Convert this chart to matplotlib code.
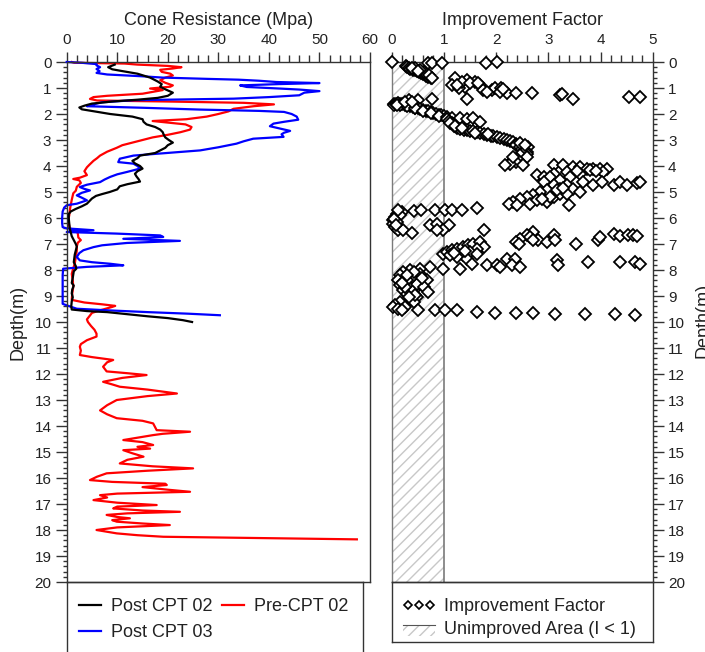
import matplotlib
matplotlib.use("Agg")
import matplotlib.pyplot as plt
from matplotlib.lines import Line2D
from matplotlib.patches import Patch, Rectangle
from matplotlib.ticker import MultipleLocator
import numpy as np

plt.rcParams['font.family'] = ['Liberation Sans', 'DejaVu Sans']
plt.rcParams['hatch.linewidth'] = 1.0

# ---------------- data ----------------
post02_depth = [0.10, 0.20, 0.28, 0.35, 0.45, 0.60, 0.75, 0.85, 0.95, 1.05, 1.18, 1.30, 1.38, 1.45, 1.52, 1.60,
                1.68, 1.75, 1.82, 1.90, 2.00, 2.10, 2.20, 2.30, 2.40, 2.50, 2.60, 2.70, 2.80, 2.90, 3.00, 3.10,
                3.20, 3.30, 3.40, 3.50, 3.60, 3.70, 3.80, 3.90, 4.00, 4.10, 4.20, 4.30, 4.40, 4.50, 4.60, 4.70,
                4.78, 4.90, 5.00, 5.08, 5.15, 5.25, 5.35, 5.45, 5.55, 5.65, 5.75, 5.85, 6.00, 6.20, 6.40, 6.55,
                6.70, 6.85, 7.00, 7.10, 7.25, 7.40, 7.55, 7.70, 7.85, 7.95, 8.05, 8.30, 8.50, 8.60, 8.75, 8.90,
                9.05, 9.20, 9.40, 9.52, 9.58, 9.62, 9.70, 9.78, 9.85, 9.93, 10.00]
post02_qc = [9.5, 8.2, 9.0, 11.0, 14.0, 16.5, 18.0, 18.8, 18.5, 19.5, 21.0, 20.0, 18.0, 14.0, 9.0, 5.0,
             3.5, 2.5, 3.0, 5.5, 8.6, 13.0, 15.0, 15.2, 15.8, 17.5, 18.5, 19.0, 19.2, 19.5, 20.2, 21.0,
             20.0, 19.5, 18.5, 17.5, 14.5, 14.0, 13.0, 13.5, 14.5, 15.0, 14.0, 13.5, 13.8, 14.2, 14.5, 12.0,
             10.5, 10.0, 8.5, 7.0, 5.8, 5.0, 4.5, 4.0, 3.0, 1.8, 0.8, 0.4, 0.4, 0.5, 0.6, 0.8,
             1.0, 1.4, 1.8, 2.0, 1.8, 1.6, 1.5, 1.4, 1.8, 1.9, 1.4, 1.2, 1.0, 1.4, 1.1, 1.0,
             1.2, 1.0, 0.9, 1.0, 4.0, 8.0, 12.0, 16.0, 20.0, 23.0, 24.8]

pre02_depth = [0.00, 0.03, 0.06, 0.10, 0.15, 0.20, 0.25, 0.30, 0.38, 0.45, 0.52, 0.60, 0.70, 0.80, 0.90, 0.95,
               1.02, 1.08, 1.15, 1.22, 1.30, 1.35, 1.42, 1.48, 1.52, 1.57, 1.63, 1.70, 1.80, 1.90, 2.00, 2.10,
               2.20, 2.27, 2.33, 2.40, 2.50, 2.60, 2.70, 2.80, 2.90, 3.00, 3.10, 3.20, 3.30, 3.45, 3.60, 3.70,
               3.80, 3.95, 4.05, 4.20, 4.35, 4.45, 4.50, 4.55, 4.65, 4.80, 4.95, 5.05, 5.30, 5.60, 5.90, 6.10,
               6.40, 6.50, 6.60, 6.75, 6.85, 6.95, 7.10, 7.25, 7.50, 7.75, 8.00, 8.15, 8.40, 8.65, 8.90, 9.15,
               9.25, 9.32, 9.38, 9.42, 9.50, 9.55, 9.65, 9.75, 9.90, 10.00, 10.15, 10.30, 10.45, 10.56, 10.70, 10.85,
               10.95, 11.10, 11.27, 11.35, 11.46, 11.55, 11.72, 11.90, 11.97, 12.04, 12.15, 12.30, 12.40, 12.49, 12.60, 12.75,
               12.85, 13.00, 13.20, 13.40, 13.55, 13.70, 13.80, 13.90, 14.05, 14.16, 14.22, 14.30, 14.35, 14.45, 14.54, 14.62,
               14.73, 14.80, 14.87, 14.93, 15.05, 15.18, 15.30, 15.44, 15.55, 15.63, 15.72, 15.82, 15.95, 16.08, 16.15, 16.22,
               16.27, 16.35, 16.45, 16.53, 16.60, 16.66, 16.75, 16.85, 16.95, 17.04, 17.10, 17.17, 17.25, 17.30, 17.36, 17.42,
               17.50, 17.55, 17.62, 17.68, 17.75, 17.81, 17.90, 18.00, 18.07, 18.13, 18.20, 18.26, 18.30, 18.36]
pre02_qc = [1.0, 1.5, 11.5, 14.0, 20.0, 22.7, 21.0, 18.5, 18.8, 20.5, 21.0, 19.5, 18.5, 19.5, 21.0, 20.5,
            16.5, 19.0, 17.0, 15.0, 8.0, 5.3, 4.6, 6.0, 20.0, 35.0, 41.0, 37.0, 33.0, 32.0, 30.0, 27.7,
            23.7, 17.0, 20.0, 23.5, 24.7, 24.4, 22.5, 20.0, 17.0, 15.0, 13.0, 11.0, 9.9, 8.0, 6.6, 6.0,
            5.3, 4.5, 4.0, 3.5, 4.0, 2.6, 1.3, 2.5, 2.8, 2.0, 1.8, 1.3, 1.0, 0.7, 0.5, 0.3,
            0.6, 2.0, 2.2, 2.3, 2.8, 2.2, 2.0, 2.0, 1.8, 1.6, 1.2, 1.0, 1.2, 1.3, 1.1, 1.0,
            3.5, 7.0, 9.6, 9.0, 7.5, 6.6, 5.0, 4.6, 4.0, 4.2, 4.8, 5.5, 5.9, 5.9, 4.0, 2.8,
            2.6, 2.8, 2.6, 5.0, 9.2, 8.0, 7.2, 7.9, 12.0, 15.8, 11.0, 7.2, 9.0, 10.5, 16.0, 21.8,
            16.0, 9.9, 8.0, 6.6, 8.0, 9.9, 15.0, 17.1, 17.5, 17.8, 24.4, 19.0, 17.1, 14.0, 11.2, 15.0,
            17.1, 14.0, 16.5, 11.2, 13.0, 15.2, 12.0, 10.5, 17.0, 25.0, 16.0, 7.9, 6.0, 4.6, 9.0, 19.5,
            19.8, 15.0, 20.0, 24.4, 10.0, 6.6, 8.0, 5.3, 10.0, 17.8, 10.0, 9.2, 15.0, 22.4, 12.0, 7.9,
            10.0, 12.5, 9.0, 9.9, 15.0, 20.4, 10.0, 5.9, 8.0, 9.9, 14.0, 19.1, 35.0, 57.4]

post03_depth = [0.00, 0.03, 0.08, 0.13, 0.20, 0.27, 0.35, 0.42, 0.48, 0.55, 0.60, 0.65, 0.68, 0.72, 0.77, 0.81,
                0.85, 0.90, 0.96, 1.02, 1.06, 1.12, 1.18, 1.28, 1.35, 1.41, 1.47, 1.55, 1.63, 1.70, 1.76, 1.83,
                1.88, 1.92, 2.00, 2.10, 2.22, 2.30, 2.37, 2.47, 2.56, 2.65, 2.72, 2.78, 2.88, 2.95, 3.05, 3.14,
                3.28, 3.40, 3.50, 3.60, 3.72, 3.85, 3.91, 4.00, 4.10, 4.23, 4.32, 4.42, 4.52, 4.62, 4.72, 4.81,
                4.88, 4.94, 5.03, 5.13, 5.22, 5.32, 5.45, 5.51, 5.60, 5.75, 6.00, 6.20, 6.35, 6.40, 6.47, 6.50,
                6.54, 6.60, 6.67, 6.73, 6.80, 6.88, 6.96, 7.05, 7.12, 7.24, 7.35, 7.50, 7.63, 7.70, 7.76, 7.82,
                7.88, 7.95, 8.20, 8.60, 8.90, 9.30, 9.36, 9.49, 9.55, 9.62, 9.68, 9.74]
post03_qc = [0.0, 3.0, 5.9, 5.9, 6.6, 5.9, 6.5, 5.9, 8.0, 15.0, 19.0, 28.0, 34.0, 38.0, 41.5, 50.0,
             42.0, 34.3, 35.6, 42.0, 46.0, 50.0, 47.0, 46.0, 40.0, 33.0, 13.2, 7.0, 5.3, 4.0, 15.0, 26.4,
             38.0, 43.0, 44.5, 45.5, 45.8, 43.0, 40.9, 40.2, 42.2, 44.2, 43.0, 42.5, 42.9, 36.9, 35.0, 33.6,
             30.0, 26.4, 19.8, 13.2, 10.5, 10.2, 13.2, 14.0, 14.5, 11.9, 10.0, 8.6, 7.5, 6.6, 4.0, 2.6,
             3.5, 4.6, 3.0, 2.0, 3.0, 4.0, 2.0, 0.0, -0.5, -0.8, -0.9, -0.9, -0.8, 0.0, 5.3, 1.0,
             0.0, 9.9, 18.5, 19.1, 11.2, 22.4, 11.9, 7.0, 5.3, 3.3, 2.5, 2.0, 2.6, 5.0, 8.6, 11.2,
             4.0, -0.7, -0.8, -0.8, -0.8, -0.8, 0.0, 2.0, 8.0, 16.0, 24.0, 30.3]

# improvement factor points (value, depth)
if_points = [
    (0.00, 0.00), (0.70, 0.03), (0.77, 0.03), (0.96, 0.03), (1.81, 0.03), (2.02, 0.01),
    (0.28, 0.17), (0.30, 0.20), (0.33, 0.23), (0.36, 0.26), (0.40, 0.29), (0.44, 0.32), (0.48, 0.36),
    (0.52, 0.40), (0.56, 0.44), (0.60, 0.48), (0.65, 0.52), (0.70, 0.56), (0.75, 0.60), (0.45, 0.22),
    (0.62, 0.40), (0.72, 0.50), (0.78, 0.62), (0.55, 0.30), (0.38, 0.22), (0.50, 0.33),
    (1.21, 0.63), (1.15, 0.88), (1.44, 0.69), (1.40, 0.97), (1.60, 0.76), (1.69, 0.88), (1.75, 1.08),
    (1.92, 1.08), (1.98, 1.01), (2.10, 0.99), (2.20, 1.20), (2.39, 1.20), (2.68, 1.20), (3.22, 1.27),
    (3.26, 1.24), (3.48, 1.42), (4.55, 1.36), (4.76, 1.36), (1.44, 1.42), (0.77, 1.42), (0.51, 1.46),
    (0.34, 1.46), (1.28, 0.99), (1.34, 0.77), (1.50, 0.80), (1.82, 1.15), (2.08, 1.15), (2.14, 1.03),
    (1.25, 0.90), (1.65, 0.80),
    (0.05, 1.62), (0.04, 1.66), (0.08, 1.60), (0.12, 1.58), (0.16, 1.60), (0.20, 1.62), (0.25, 1.64),
    (0.30, 1.66), (0.35, 1.69), (0.40, 1.72), (0.45, 1.75), (0.50, 1.78), (0.55, 1.81), (0.60, 1.84),
    (0.65, 1.87), (0.70, 1.90), (0.75, 1.93), (0.80, 1.96), (0.85, 1.99), (0.90, 2.02), (0.95, 2.05),
    (1.00, 2.08), (0.15, 1.65), (0.30, 1.70), (0.45, 1.78), (0.60, 1.88), (0.75, 1.97), (0.90, 2.06),
    (0.10, 1.67), (1.05, 2.10), (1.15, 2.16), (1.30, 2.16), (1.45, 2.18), (1.56, 2.16), (1.69, 2.29),
    (0.25, 1.52), (0.38, 1.55),
    (1.05, 2.20), (1.10, 2.28), (1.15, 2.33), (1.18, 2.40), (1.20, 2.46), (1.25, 2.52), (1.30, 2.56),
    (1.38, 2.60), (1.44, 2.63), (1.50, 2.65), (1.56, 2.67), (1.63, 2.69), (1.70, 2.73), (1.76, 2.77),
    (1.82, 2.82), (1.90, 2.84), (1.95, 2.86), (2.01, 2.88), (2.08, 2.92), (2.15, 2.97), (2.20, 3.01),
    (2.27, 3.05), (2.33, 3.08), (2.39, 3.15), (2.39, 3.20), (2.46, 3.27), (2.50, 3.33), (2.55, 3.40),
    (2.62, 3.27), (2.60, 3.45), (2.59, 3.53), (2.52, 3.50), (2.46, 3.59), (2.59, 3.65), (2.40, 3.72),
    (2.33, 3.78), (2.39, 3.85), (2.27, 3.91), (2.17, 3.97), (2.52, 3.97), (2.33, 3.65), (1.12, 2.36),
    (1.22, 2.48), (1.35, 2.55), (1.60, 2.72), (1.85, 2.78), (2.45, 3.12), (2.55, 3.20),
    (3.10, 3.97), (3.29, 3.97), (3.48, 4.04), (3.61, 4.04), (3.74, 4.10), (3.86, 4.10), (3.99, 4.10),
    (4.12, 4.10), (4.05, 4.23), (3.80, 4.17), (3.61, 4.29), (3.35, 4.23), (3.10, 4.29), (2.78, 4.36),
    (2.91, 4.42), (3.03, 4.42), (3.22, 4.55), (3.42, 4.42), (3.67, 4.62), (3.86, 4.74), (4.02, 4.62),
    (4.25, 4.74), (4.38, 4.62), (4.50, 4.74), (4.69, 4.65), (4.76, 4.62), (2.91, 4.62), (3.10, 4.74),
    (3.22, 4.87), (3.35, 4.74), (3.48, 4.87), (3.61, 5.00), (2.97, 4.94), (2.84, 5.00), (2.71, 5.13),
    (2.59, 5.19), (2.46, 5.26), (2.33, 5.38), (2.24, 5.45), (2.40, 5.51), (2.65, 5.45), (2.97, 5.38),
    (3.10, 5.19), (3.22, 5.06), (3.35, 5.06), (3.39, 5.51), (3.03, 5.19), (2.78, 5.32), (3.16, 4.94),
    (3.55, 4.20), (3.92, 4.18), (3.28, 4.85), (2.88, 5.25),
    (0.42, 5.73), (0.57, 5.70), (0.83, 5.70), (1.02, 5.68), (1.15, 5.68), (1.34, 5.68), (1.63, 5.60),
    (0.19, 5.77), (0.10, 5.83), (0.06, 5.96), (0.03, 6.09), (0.03, 6.22), (0.06, 6.35), (0.13, 6.47),
    (0.16, 5.90), (0.22, 6.47), (0.10, 6.15), (0.13, 5.70), (0.05, 6.02), (0.08, 6.28),
    (0.73, 6.28), (0.86, 6.24), (1.09, 6.28), (0.99, 6.47), (0.86, 6.45), (0.38, 6.58), (1.76, 6.47),
    (2.71, 6.54), (2.59, 6.67), (2.46, 6.79), (2.39, 6.92), (2.43, 7.01), (2.65, 6.73), (2.81, 6.83),
    (2.97, 6.92), (3.10, 6.67), (3.13, 6.86), (3.54, 7.00), (3.96, 6.86), (3.99, 6.73), (4.25, 6.60),
    (4.38, 6.71), (4.53, 6.67), (4.63, 6.67), (4.69, 6.71), (2.71, 6.86),
    (0.99, 7.37), (1.05, 7.31), (1.15, 7.24), (1.25, 7.18), (1.37, 7.12), (1.47, 7.05), (1.56, 6.99),
    (1.69, 6.92), (1.76, 7.12), (1.63, 7.18), (1.50, 7.31), (1.37, 7.44), (1.25, 7.50), (1.12, 7.44),
    (1.44, 7.56), (1.63, 7.37), (1.82, 7.82), (1.31, 7.95), (0.99, 7.95), (2.01, 7.82), (2.08, 7.88),
    (2.20, 7.56), (2.36, 7.56), (2.30, 7.82), (2.46, 7.88), (3.16, 7.63), (3.19, 7.82), (3.77, 7.69),
    (4.38, 7.69), (4.66, 7.69), (4.76, 7.76), (1.53, 7.76), (1.20, 7.35), (1.40, 7.25),
    (0.73, 7.88), (0.54, 7.95), (0.35, 8.01), (0.22, 8.08), (0.16, 8.21), (0.13, 8.40), (0.16, 8.59),
    (0.22, 8.78), (0.29, 8.91), (0.42, 8.78), (0.48, 8.53), (0.38, 8.27), (0.54, 8.14), (0.67, 8.40),
    (0.61, 8.65), (0.70, 8.85), (0.48, 9.04), (0.35, 9.17), (0.16, 9.23), (0.06, 9.36), (0.03, 9.42),
    (0.13, 9.49), (0.26, 9.42), (0.42, 9.23), (0.29, 8.40), (0.42, 8.08), (0.26, 8.65), (0.51, 9.55),
    (0.19, 9.55), (0.30, 8.20), (0.20, 8.50), (0.45, 8.95), (0.33, 9.05), (0.58, 8.30),
    (0.83, 9.53), (1.02, 9.55), (1.25, 9.55), (1.63, 9.62), (1.98, 9.64), (2.39, 9.65), (2.71, 9.65),
    (3.13, 9.68), (3.70, 9.68), (4.28, 9.68), (4.66, 9.74),
]
if_value = [p[0] for p in if_points]
if_depth = [p[1] for p in if_points]

# ---------------- figure ----------------
W, H = 705, 652
fig = plt.figure(figsize=(W / 100, H / 100), dpi=100)

def fx(px):
    return px / W

def fy(py):
    return 1 - py / H

TXT = '#222222'
SP = '#333333'

axL = fig.add_axes([fx(66.7), fy(582), fx(370) - fx(66.7), fy(62) - fy(582)])
axR = fig.add_axes([fx(391.7), fy(582), fx(652.7) - fx(391.7), fy(62) - fy(582)])

axL.plot(post02_qc, post02_depth, color='black', lw=1.6, clip_on=False, zorder=3)
axL.plot(pre02_qc, pre02_depth, color='#ff0000', lw=1.6, clip_on=False, zorder=2)
axL.plot(post03_qc, post03_depth, color='#0000ff', lw=1.6, clip_on=False, zorder=2.5)

axL.set_xlim(0, 60)
axL.set_ylim(20, 0)
axL.xaxis.set_major_locator(MultipleLocator(10))
axL.xaxis.set_minor_locator(MultipleLocator(2))
axL.yaxis.set_major_locator(MultipleLocator(1))
axL.yaxis.set_minor_locator(MultipleLocator(0.2))
axL.xaxis.tick_top()
axL.xaxis.set_label_position('top')
axL.set_xlabel('Cone Resistance (Mpa)', fontsize=13, color=TXT, labelpad=6)
axL.tick_params(axis='x', which='major', length=7.5, width=1, direction='out', labelsize=11,
                colors=SP, labelcolor=TXT, pad=3)
axL.tick_params(axis='x', which='minor', length=5, width=1, direction='out', colors=SP)
axL.tick_params(axis='y', which='major', length=8, width=1, direction='out', labelsize=11,
                colors=SP, labelcolor=TXT, pad=3)
axL.tick_params(axis='y', which='minor', length=3, width=1, direction='out', colors=SP)
for s in axL.spines.values():
    s.set_color(SP)
    s.set_linewidth(1.0)

# right panel
axR.fill_betweenx([0, 20], 0, 1, facecolor='white', edgecolor='#c8c8c8', hatch='///',
                  linewidth=0, zorder=0)
axR.axvline(1, color='#7a7a7a', lw=1.2, zorder=1)
axR.plot(if_value, if_depth, linestyle='none', marker='D', markersize=5.8,
         markerfacecolor='white', markeredgecolor='black', markeredgewidth=1.3, zorder=3,
         clip_on=False)
axR.set_xlim(0, 5)
axR.set_ylim(20, 0)
axR.xaxis.set_major_locator(MultipleLocator(1))
axR.xaxis.set_minor_locator(MultipleLocator(0.2))
axR.yaxis.set_major_locator(MultipleLocator(1))
axR.yaxis.set_minor_locator(MultipleLocator(0.2))
axR.xaxis.tick_top()
axR.xaxis.set_label_position('top')
axR.yaxis.tick_right()
axR.set_xlabel('Improvement Factor', fontsize=13, color=TXT, labelpad=6)
axR.tick_params(axis='x', which='major', length=7.5, width=1, direction='out', labelsize=11,
                colors=SP, labelcolor=TXT, pad=3)
axR.tick_params(axis='x', which='minor', length=5, width=1, direction='out', colors=SP)
axR.tick_params(axis='y', which='major', length=8, width=1, direction='out', labelsize=11,
                colors=SP, labelcolor=TXT, pad=3)
axR.tick_params(axis='y', which='minor', length=3, width=1, direction='out', colors=SP)
for s in axR.spines.values():
    s.set_color(SP)
    s.set_linewidth(1.0)
axR.spines['left'].set_color('#7a7a7a')

fig.text(fx(18), fy(322), 'Depth(m)', rotation=90, ha='center', va='center', fontsize=13, color=TXT)
fig.text(fx(703), fy(320), 'Depth(m)', rotation=90, ha='center', va='center', fontsize=13, color=TXT)

# legend boxes
legL = fig.add_axes([fx(66.7), fy(665), fx(363) - fx(66.7), fy(582) - fy(665)])
legR = fig.add_axes([fx(391.7), fy(642), fx(652.7) - fx(391.7), fy(582) - fy(642)])
for a in (legL, legR):
    a.set_xticks([])
    a.set_yticks([])
    a.patch.set_alpha(0)
    for s in a.spines.values():
        s.set_color(SP)
        s.set_linewidth(1.0)


class HatchLineHandler:
    def legend_artist(self, legend, orig_handle, fontsize, handlebox):
        x0, y0 = handlebox.xdescent, handlebox.ydescent
        w, h = handlebox.width, handlebox.height
        rect = Rectangle((x0, y0 - 0.15 * h), w, h * 0.85, facecolor='white', edgecolor='#c8c8c8',
                         hatch='///', linewidth=0, transform=handlebox.get_transform())
        line = Line2D([x0, x0 + w], [y0 + 0.7 * h, y0 + 0.7 * h], color='#555555', lw=0.8,
                      transform=handlebox.get_transform())
        handlebox.add_artist(rect)
        handlebox.add_artist(line)
        return rect


hL = [Line2D([], [], color='black', lw=1.6, label='Post CPT 02'),
      Line2D([], [], color='#0000ff', lw=1.6, label='Post CPT 03'),
      Line2D([], [], color='#ff0000', lw=1.6, label='Pre-CPT 02')]
legL.legend(handles=hL, ncol=2, loc='upper left', bbox_to_anchor=(-0.012, 1.0), frameon=False,
            fontsize=13, handlelength=1.2, handletextpad=0.55, columnspacing=0.55,
            labelspacing=0.5, borderaxespad=0.5, labelcolor=TXT)

h_if = Line2D([], [], linestyle='none', marker='D', markersize=4.5, markerfacecolor='white',
              markeredgecolor='black', markeredgewidth=1.2)
h_ua = Patch(facecolor='white', edgecolor='#c8c8c8', hatch='///')
legR.legend(handles=[h_if, h_ua], labels=['Improvement Factor', 'Unimproved Area (I < 1)'],
            loc='upper left', bbox_to_anchor=(-0.02, 1.0), frameon=False, fontsize=13,
            numpoints=3, handlelength=1.8, handletextpad=0.5, labelspacing=0.3,
            borderaxespad=0.5, labelcolor=TXT, handler_map={Patch: HatchLineHandler()})

fig.savefig('out.png', dpi=100)
